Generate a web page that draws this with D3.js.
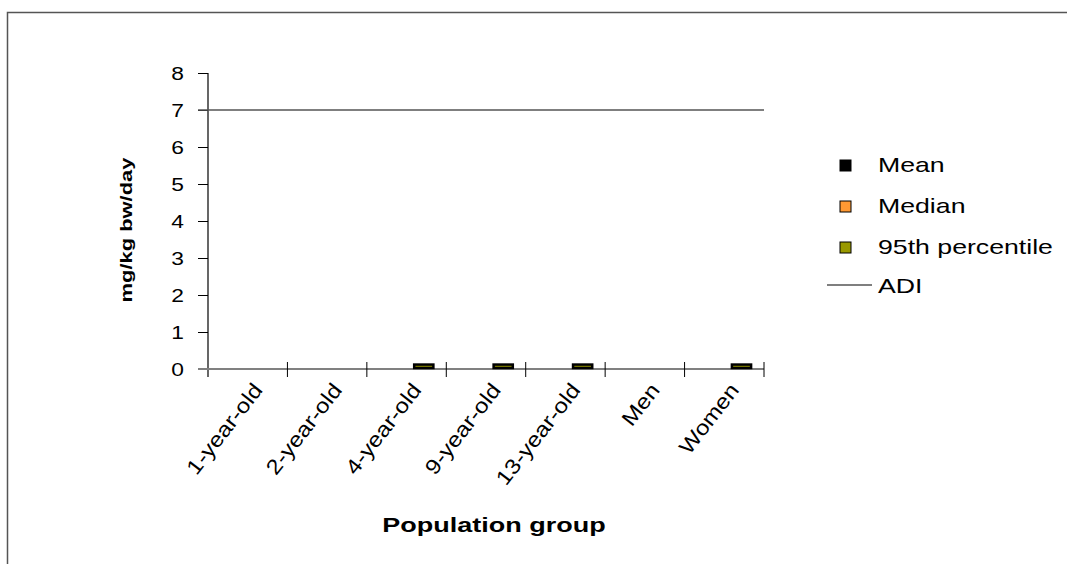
<!DOCTYPE html>
<html><head><meta charset="utf-8">
<script src="https://cdn.jsdelivr.net/npm/d3@7"></script>
<style>body{margin:0;background:#fff}svg{display:block;font-family:"Liberation Sans",Arial,sans-serif}</style>
</head><body>
<svg id="c" width="1067" height="564"></svg>
<script>
const categories = ["1-year-old","2-year-old","4-year-old","9-year-old","13-year-old","Men","Women"];
const seriesNames = ["Mean","Median","95th percentile"];
const meanValues = [null,null,0,0,0,null,0];
const medianValues = [null,null,0,0,0,null,0];
const p95Values = [null,null,0.12,0.12,0.12,null,0.12];
const adiValue = 7;
const yTicks = [0,1,2,3,4,5,6,7,8];
const colors = ["#000000","#ff9933","#999900"];

const svg = d3.select("#c");
svg.append("path").attr("d","M7.5,564 L7.5,12.5 L1067,12.5").attr("fill","none").attr("stroke","#555").attr("stroke-width",1.5);

const x0 = d3.scaleBand().domain(categories).range([208,764]).padding(0);
const y = d3.scaleLinear().domain([0,8]).range([369,73]);
const x1 = d3.scaleBand().domain(seriesNames).range([x0.bandwidth()*0.05, x0.bandwidth()*0.85]).padding(0);

const allSeries = [meanValues, medianValues, p95Values];

// y axis
const yAxis = d3.axisLeft(y).tickValues(yTicks).tickSize(10).tickPadding(0).tickFormat(d3.format("d"));
const gy = svg.append("g").attr("transform","translate(208,0)").call(yAxis);
gy.attr("font-size",null).attr("font-family",null);
gy.select(".domain").attr("d","M0,73V377").attr("stroke","#000").attr("stroke-width",1.2);
gy.selectAll(".tick line").attr("stroke","#000");
gy.selectAll(".tick text").attr("x",null).attr("transform","translate(-24,0) scale(1.2,1)")
  .style("font-size","19px").attr("fill","#000");

// x axis
const gx = svg.append("g").attr("transform","translate(0,369)");
gx.append("line").attr("x1",198).attr("x2",764).attr("y1",0).attr("y2",0).attr("stroke","#808080").attr("stroke-width",2);
const boundaries = categories.map(c=>x0(c)).concat([x0.range()[1]]);
gx.selectAll("line.tk").data(boundaries.slice(1)).enter().append("line").attr("class","tk")
  .attr("x1",d=>d).attr("x2",d=>d).attr("y1",-7).attr("y2",8).attr("stroke","#000").attr("stroke-width",1);
gx.selectAll("text.lbl").data(categories).enter().append("text").attr("class","lbl")
  .attr("transform",d=>`translate(${x0(d)+x0.bandwidth()/2+10},${17}) rotate(-52) scale(1.15,1)`)
  .attr("text-anchor","end").attr("dy","0.35em").style("font-size","21px").text(d=>d);

// bars
seriesNames.forEach((s,si)=>{
  const vals = allSeries[si];
  svg.append("g").selectAll("rect").data(categories.map((c,i)=>({c,v:vals[i]})).filter(d=>d.v!=null && d.v>0))
    .enter().append("rect")
    .attr("x",d=>x0(d.c)+x1(s)+1).attr("width",x1.bandwidth()-2)
    .attr("y",d=>y(d.v)).attr("height",d=>y(0)-y(d.v)-1)
    .attr("fill",colors[si]).attr("stroke","#000").attr("stroke-width",2.5);
});

// ADI line
svg.append("line").attr("x1",198).attr("x2",764).attr("y1",y(adiValue)).attr("y2",y(adiValue)).attr("stroke","#555").attr("stroke-width",1.3);

// axis titles
svg.append("text").attr("transform","translate(132,230) rotate(-90) scale(1.29,1)").attr("text-anchor","middle")
  .style("font-size","17px").attr("font-weight","bold").text("mg/kg bw/day");
svg.append("text").attr("transform","translate(494,532) scale(1.35,1)").attr("text-anchor","middle")
  .style("font-size","20px").attr("font-weight","bold").text("Population group");

// legend
const lg = svg.append("g");
const ly = [165,206,247];
seriesNames.forEach((s,i)=>{
  lg.append("rect").attr("x",840).attr("y",ly[i]-5).attr("width",11).attr("height",11)
    .attr("fill",colors[i]).attr("stroke","#000").attr("stroke-width",1);
  lg.append("text").attr("transform",`translate(878,${ly[i]}) scale(1.27,1)`).attr("dy","0.35em").style("font-size","21px").text(s);
});
lg.append("line").attr("x1",827).attr("x2",872).attr("y1",285).attr("y2",285).attr("stroke","#555").attr("stroke-width",1.3);
lg.append("text").attr("transform","translate(878,286) scale(1.27,1)").attr("dy","0.35em").style("font-size","21px").text("ADI");
</script>
</body></html>
